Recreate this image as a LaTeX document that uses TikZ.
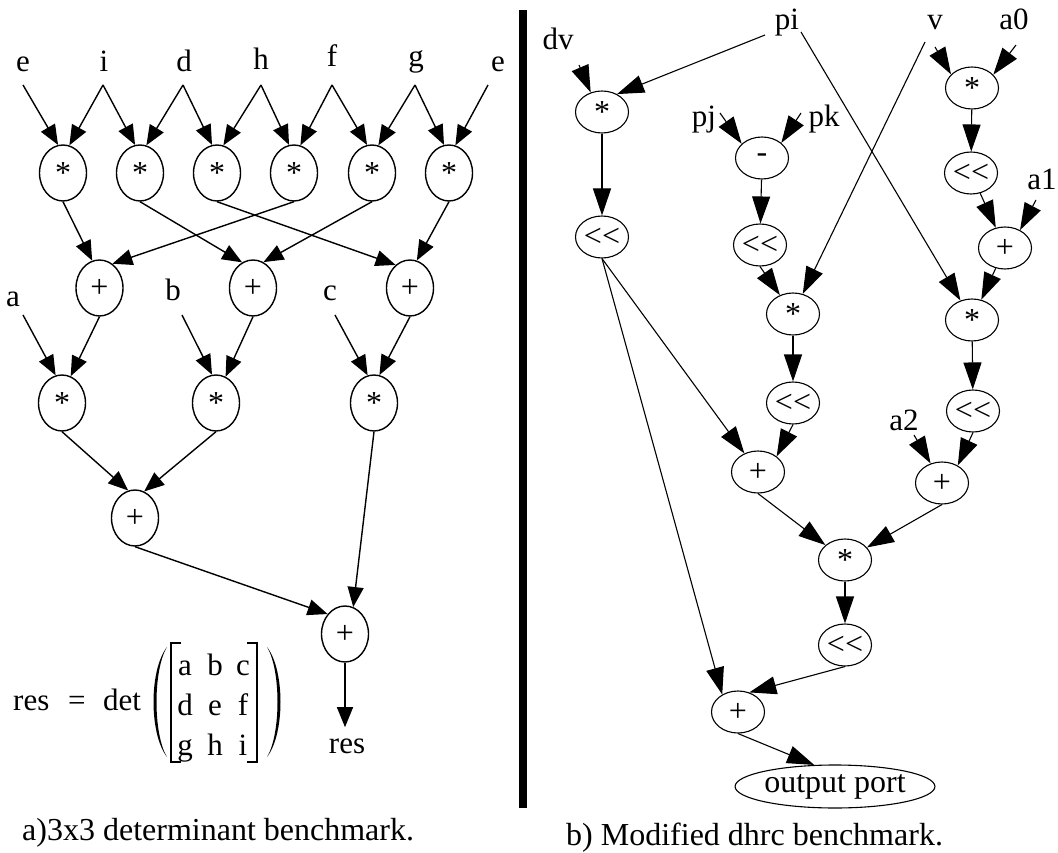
\documentclass[tikz,border=0pt]{standalone}
\usepackage{fontspec}
\setmainfont{Liberation Serif}
\usetikzlibrary{shapes.geometric,arrows.meta}
\newcommand\labfont{\fontsize{31}{37}\selectfont}
\newcommand\opsfont{\fontsize{32}{38}\selectfont}
\newcommand\capfont{\fontsize{32}{38}\selectfont}
\newcommand\shl{<{}<}
\begin{document}
\begin{tikzpicture}[x=1pt,y=-1pt,
  op/.style={ellipse,draw,inner sep=0pt,font=\opsfont},
  lop/.style={op,line width=1.4pt,minimum width=47pt,minimum height=56pt},
  rop/.style={op,line width=1.1pt,minimum width=53pt,minimum height=42pt},
  lbl/.style={inner sep=0pt,font=\labfont,anchor=base},
  larr/.style={-{Triangle[length=20pt,width=16pt]},line width=1.4pt},
  rarr/.style={-{Triangle[length=27pt,width=18pt]},line width=1.1pt},
  captxt/.style={anchor=base west,inner sep=0pt,font=\capfont},
]
\useasboundingbox (0,0) rectangle (1058,853);

% ---------------- a) 3x3 determinant ----------------
% inputs
\node[lbl] (le1) at (23,72)  {e};
\node[lbl] (li)  at (104,72) {i};
\node[lbl] (ld)  at (184,72) {d};
\node[lbl] (lh)  at (261,70) {h};
\node[lbl] (lf)  at (332,67) {f};
\node[lbl] (lg)  at (416,67) {g};
\node[lbl] (le2) at (498,72) {e};
\coordinate (le1o) at (23,85);
\coordinate (lio)  at (103,85);
\coordinate (ldo)  at (183,85);
\coordinate (lho)  at (261,85);
\coordinate (lfo)  at (332,85);
\coordinate (lgo)  at (415,85);
\coordinate (le2o) at (488,85);

% products
\node[lop] (m1) at (63,173)  {*};
\node[lop] (m2) at (140,173) {*};
\node[lop] (m3) at (217,173) {*};
\node[lop] (m4) at (294,173) {*};
\node[lop] (m5) at (372,173) {*};
\node[lop] (m6) at (449,173) {*};

% differences
\node[lop] (p1) at (99.5,288) {+};
\node[lop] (p2) at (253,288)  {+};
\node[lop] (p3) at (410,288)  {+};

\node[lbl] (la) at (13,306)  {a};
\node[lbl] (lb) at (173,300) {b};
\node[lbl] (lc) at (330,300) {c};
\coordinate (lao) at (23,315);
\coordinate (lbo) at (182,315);
\coordinate (lco) at (335,315);

\node[lop] (ma) at (62,403)  {*};
\node[lop] (mb) at (216,403) {*};
\node[lop] (mc) at (374,403) {*};

\node[lop] (p4) at (135,518) {+};
\node[lop] (p5) at (345,634) {+};
\node[lbl,inner ysep=11pt] (res) at (347,753) {res};

\draw[larr] (le1o) -- (m1.100);
\draw[larr] (lio) -- (m1.77);
\draw[larr] (lio) -- (m2.100);
\draw[larr] (ldo) -- (m2.77);
\draw[larr] (ldo) -- (m3.100);
\draw[larr] (lho) -- (m3.77);
\draw[larr] (lho) -- (m4.100);
\draw[larr] (lfo) -- (m4.77);
\draw[larr] (lfo) -- (m5.100);
\draw[larr] (lgo) -- (m5.77);
\draw[larr] (lgo) -- (m6.100);
\draw[larr] (le2o) -- (m6.77);

\draw[larr] (m1.south) -- (p1.105);
\draw[larr] (m4.south) -- (p1.62);
\draw[larr] (m2.south) -- (p2.113);
\draw[larr] (m5.south) -- (p2.68);
\draw[larr] (m3.south) -- (p3.122);
\draw[larr] (m6.south) -- (p3.76);

\draw[larr] (lao) -- (ma.103);
\draw[larr] (p1.south) -- (ma.72);
\draw[larr] (lbo) -- (mb.98);
\draw[larr] (p2.south) -- (mb.70);
\draw[larr] (lco) -- (mc.103);
\draw[larr] (p3.south) -- (mc.79);

\draw[larr] (ma.south) -- (p4.104);
\draw[larr] (mb.south) -- (p4.71);
\draw[larr] (mc.south) -- (p5.73);
\draw[larr] (p4.south) -- (p5.131);
\draw[larr] (p5.south) -- (p5 |- res.north);

% formula
\node[lbl,anchor=base west] (fres) at (13,710)  {res};
\node[lbl,anchor=base west] (feq)  at (68,710)  {=};
\node[lbl,anchor=base west] (fdet) at (103,710) {det};
\node[lbl] (xa) at (185,675) {a};
\node[lbl] (xb) at (215,675) {b};
\node[lbl] (xc) at (243,675) {c};
\node[lbl] (xd) at (185,715) {d};
\node[lbl] (xe) at (215,715) {e};
\node[lbl] (xf) at (243,715) {f};
\node[lbl] (xg) at (185,755) {g};
\node[lbl] (xh) at (215,755) {h};
\node[lbl] (xi) at (243,755) {i};
\draw[line width=1.1pt] (181,643) -- (171,643) -- (171,762) -- (181,762);
\draw[line width=1.1pt] (247,643) -- (257,643) -- (257,762) -- (247,762);
\fill (167,647) .. controls (149,670) and (149,734) .. (167,757)
      .. controls (153,734) and (153,670) .. (167,647) -- cycle;
\fill (267,647) .. controls (285,670) and (285,734) .. (267,757)
      .. controls (281,734) and (281,670) .. (267,647) -- cycle;

\node[captxt] (capa) at (22,840) {a)3x3 determinant benchmark.};

% divider
\fill (519,10) rectangle (527,808);

% ---------------- b) modified dhrc ----------------
\node[lbl] (ldv) at (558,50)  {dv};
\node[lbl] (lpi) at (787,30)  {pi};
\node[lbl] (lv)  at (935,30)  {v};
\node[lbl] (la0) at (1014,30) {a0};
\node[lbl] (lpj) at (704,127) {pj};
\node[lbl] (lpk) at (824,127) {pk};
\node[lbl] (la1) at (1042,190) {a1};
\node[lbl] (la2) at (904,430) {a2};
\coordinate (ldvo)  at (579,65);
\coordinate (lpio1) at (765,35);
\coordinate (lpio2) at (801,32);
\coordinate (lvo1)  at (925,42);
\coordinate (lvo2)  at (935,47);
\coordinate (la0o)  at (1016,45);
\coordinate (lpjo)  at (720,113);
\coordinate (lpko)  at (801,113);
\coordinate (la1o)  at (1036,200);
\coordinate (la2o)  at (914,435);

\node[rop] (sdv) at (602,112)  {*};
\node[rop] (mn)  at (762,158)  {-};
\node[rop] (sR1) at (972,88)   {*};
\node[rop] (LL)  at (602,237)  {\shl};
\node[rop] (LM1) at (760,245)  {\shl};
\node[rop] (LR1) at (971,173)  {\shl};
\node[rop] (pR1) at (1005,248) {+};
\node[rop] (sM)  at (793,314)  {*};
\node[rop] (sR2) at (972,320)  {*};
\node[rop] (LM2) at (793,403)  {\shl};
\node[rop] (LR2) at (973,411)  {\shl};
\node[rop] (pM3) at (758,472)  {+};
\node[rop] (pR3) at (942,483)  {+};
\node[rop] (sB)  at (845,560)  {*};
\node[rop] (LB)  at (845,645)  {\shl};
\node[rop] (pB)  at (738,712)  {+};
\node[op,line width=1.1pt,minimum width=188pt,minimum height=43pt,font=\capfont]
  (out) at (835,786.5) {output port};

\draw[rarr] (ldvo) -- (sdv.120);
\draw[rarr] (lpio1) -- (sdv.50);
\draw[rarr] (lpjo) -- (mn.145);
\draw[rarr] (lpko) -- (mn.38);
\draw[rarr] (lvo2) -- (sR1.147);
\draw[rarr] (la0o) -- (sR1.32);
\draw[rarr] (sdv) -- (LL);
\draw[rarr] (mn) -- (LM1);
\draw[rarr] (sR1) -- (LR1);
\draw[rarr] (LR1) -- (pR1);
\draw[rarr] (la1o) -- (pR1.50);
\draw[rarr] (LM1.south) -- (sM);
\draw[rarr] (lvo1) -- (sM);
\draw[rarr] (lpio2) -- (sR2);
\draw[rarr] (pR1) -- (sR2);
\draw[rarr] (sM) -- (LM2);
\draw[rarr] (sR2) -- (LR2);
\draw[rarr] (LL.south) -- (pM3);
\draw[rarr] (LM2.south) -- (pM3.40);
\draw[rarr] (la2o) -- (pR3);
\draw[rarr] (LR2.south) -- (pR3.48);
\draw[rarr] (pM3.south) -- (sB);
\draw[rarr] (pR3.south) -- (sB);
\draw[rarr] (sB) -- (LB);
\draw[rarr] (LL.south) -- (pB.132);
\draw[rarr] (LB.south) -- (pB.60);
\draw[rarr] (pB.south) -- (out.134);

\node[captxt] (capb) at (566,845) {b) Modified dhrc benchmark.};
\end{tikzpicture}
\end{document}
